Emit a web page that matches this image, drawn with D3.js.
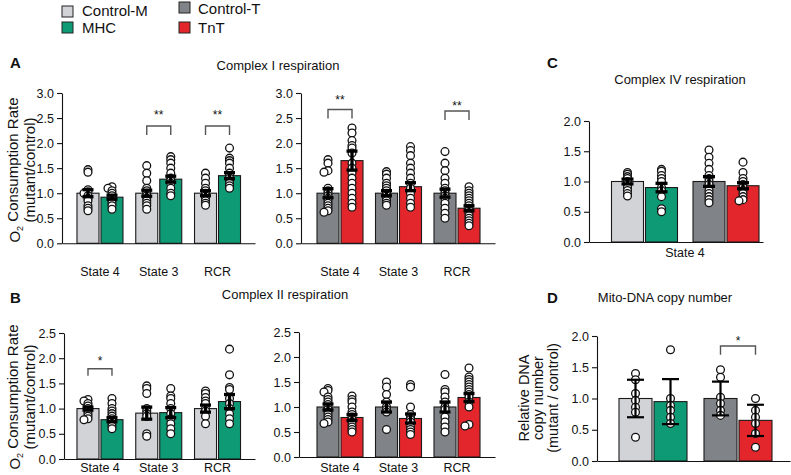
<!DOCTYPE html>
<html><head><meta charset="utf-8">
<script src="https://cdn.jsdelivr.net/npm/d3@7"></script>
<style>
body{margin:0;background:#fff}
svg{display:block}
text{font-family:"Liberation Sans",Arial,Helvetica,sans-serif;fill:#111}
</style>
</head><body>
<svg id="chart" width="791" height="475"></svg>
<script>
// ---------------- DATA ----------------
const seriesNames  = ["Control-M", "MHC", "Control-T", "TnT"];
const seriesColors = ["#d2d3d7", "#0f9a76", "#808387", "#e3262b"];
const stateLabels  = ["State 4", "State 3", "RCR"];
const ticksA = [0, 0.5, 1.0, 1.5, 2.0, 2.5, 3.0];
const ticksB = [0, 0.5, 1.0, 1.5, 2.0, 2.5];
const ticksCD = [0, 0.5, 1.0, 1.5, 2.0];

// Panel A left: Complex I, Control-M vs MHC
const aLeftMeans = [[1.00, 0.92], [1.00, 1.28], [1.00, 1.35]];
const aLeftSEM   = [[0.07, 0.04], [0.06, 0.06], [0.05, 0.06]];
const aLeftPoints = [
  [[1.47, 1.42, 1.07, 1.03, 1.0, 0.95, 0.9, 0.85, 0.75, 0.7, 0.65],
   [1.13, 1.1, 1.05, 1.0, 0.95, 0.9, 0.85, 0.8, 0.75, 0.68]],
  [[1.55, 1.4, 1.25, 1.1, 1.05, 1.0, 0.95, 0.9, 0.85, 0.8, 0.75, 0.68],
   [1.73, 1.67, 1.6, 1.5, 1.4, 1.3, 1.25, 1.2, 1.1, 1.0, 0.95]],
  [[1.4, 1.3, 1.2, 1.1, 1.05, 1.0, 0.95, 0.9, 0.85, 0.8, 0.76],
   [1.9, 1.7, 1.65, 1.6, 1.5, 1.4, 1.35, 1.3, 1.25, 1.2, 1.15, 1.1]]
];
const aLeftSig = [{group: 1, y: 2.34, leg: 2.16, ty: 2.62, label: "**"},
                  {group: 2, y: 2.34, leg: 2.16, ty: 2.62, label: "**"}];

// Panel A right: Complex I, Control-T vs TnT
const aRightMeans = [[1.00, 1.65], [1.00, 1.13], [1.00, 0.70]];
const aRightSEM   = [[0.09, 0.19], [0.05, 0.08], [0.08, 0.05]];
const aRightPoints = [
  [[1.67, 1.6, 1.45, 1.42, 1.1, 1.05, 1.0, 0.95, 0.9, 0.85, 0.8, 0.75, 0.7, 0.65, 0.62],
   [2.3, 2.2, 2.05, 1.95, 1.9, 1.8, 1.6, 1.5, 1.4, 1.3, 1.2, 1.1, 1.0, 0.9, 0.8, 0.72]],
  [[1.43, 1.38, 1.3, 1.2, 1.15, 1.1, 1.05, 1.0, 0.95, 0.9, 0.85, 0.8, 0.76],
   [1.93, 1.85, 1.75, 1.6, 1.5, 1.4, 1.3, 1.2, 1.1, 1.0, 0.9, 0.8, 0.72]],
  [[1.83, 1.6, 1.45, 1.3, 1.2, 1.1, 1.05, 1.0, 0.95, 0.9, 0.8, 0.7, 0.6, 0.5],
   [1.13, 1.05, 1.0, 0.95, 0.9, 0.85, 0.8, 0.75, 0.7, 0.65, 0.6, 0.55, 0.5, 0.45, 0.4, 0.35]]
];
const aRightSig = [{group: 0, y: 2.67, leg: 2.49, ty: 2.92, label: "**"},
                   {group: 2, y: 2.64, leg: 2.46, ty: 2.80, label: "**"}];

// Panel B left: Complex II, Control-M vs MHC
const bLeftMeans = [[1.00, 0.78], [0.91, 0.92], [1.00, 1.14]];
const bLeftSEM   = [[0.03, 0.04], [0.12, 0.10], [0.07, 0.14]];
const bLeftPoints = [
  [[1.18, 1.15, 1.1, 1.05, 1.0, 0.95, 0.9, 0.85, 0.8, 0.78],
   [1.2, 1.1, 1.0, 0.95, 0.9, 0.85, 0.8, 0.75, 0.7, 0.65, 0.6]],
  [[1.45, 1.4, 1.3, 1.0, 0.95, 0.9, 0.85, 0.5, 0.45],
   [1.4, 1.25, 1.2, 1.1, 1.0, 0.9, 0.8, 0.7, 0.6, 0.5]],
  [[1.35, 1.3, 1.22, 1.15, 1.1, 1.0, 0.95, 0.85, 0.7],
   [2.18, 1.67, 1.42, 1.38, 1.2, 1.1, 1.0, 0.9, 0.8, 0.7]]
];
const bLeftSig = [{group: 0, y: 1.79, leg: 1.65, ty: 2.0, label: "*"}];

// Panel B right: Complex II, Control-T vs TnT
const bRightMeans = [[1.00, 0.79], [1.00, 0.77], [1.00, 1.19]];
const bRightSEM   = [[0.06, 0.06], [0.10, 0.09], [0.10, 0.08]];
const bRightPoints = [
  [[1.37, 1.33, 1.3, 1.2, 1.15, 1.1, 1.05, 1.0, 0.95, 0.9, 0.85, 0.8, 0.75, 0.7, 0.67],
   [1.22, 1.15, 1.1, 1.0, 0.9, 0.85, 0.8, 0.75, 0.7, 0.65, 0.6, 0.55, 0.5]],
  [[1.5, 1.4, 1.25, 1.1, 1.0, 0.95, 0.9, 0.55],
   [1.45, 1.4, 1.0, 0.85, 0.8, 0.75, 0.7, 0.6, 0.55, 0.5, 0.45]],
  [[1.65, 1.35, 1.3, 1.2, 1.1, 1.0, 0.95, 0.8, 0.7, 0.6, 0.5],
   [1.78, 1.6, 1.55, 1.5, 1.45, 1.4, 1.35, 1.3, 1.25, 1.2, 1.1, 1.0, 0.65, 0.62]]
];
const bRightSig = [];

// Panel C: Complex IV, State 4 (pairs: Control-M/MHC, Control-T/TnT)
const cMeans = [[1.00, 0.90], [1.00, 0.93]];
const cSEM   = [[0.04, 0.07], [0.08, 0.05]];
const cPoints = [
  [[1.15, 1.12, 1.08, 1.05, 1.0, 0.95, 0.9, 0.85, 0.8, 0.76],
   [1.2, 1.17, 1.1, 1.05, 1.0, 0.9, 0.85, 0.75, 0.55, 0.5]],
  [[1.52, 1.4, 1.3, 1.2, 1.1, 1.05, 1.0, 0.95, 0.85, 0.8, 0.75, 0.7, 0.65],
   [1.32, 1.15, 1.05, 1.0, 0.95, 0.9, 0.85, 0.8, 0.75, 0.7, 0.68]]
];

// Panel D: Mito-DNA copy number (mean +/- SD)
const dMeans = [[1.00, 0.95], [1.00, 0.65]];
const dSD    = [[0.30, 0.36], [0.27, 0.25]];
const dPoints = [
  [[1.4, 1.3, 1.08, 0.97, 0.86, 0.78, 0.38],
   [1.78, 1.0, 0.89, 0.81, 0.7, 0.6]],
  [[1.46, 1.34, 1.02, 0.92, 0.81, 0.73],
   [1.0, 0.81, 0.7, 0.6, 0.44, 0.22]]
];
const dSig = [{group: 1, y: 1.84, leg: 1.70, ty: 1.97, label: "*"}];

// ---------------- DRAWING ----------------
const svg = d3.select("#chart");
const FONT = '"Liberation Sans", Arial, Helvetica, sans-serif';

function drawPanel(o) {
  const g = svg.append("g");
  const y = d3.scaleLinear().domain([0, o.yMax]).range([o.yBottom, o.yTop]);
  const xg = d3.scaleBand().domain(d3.range(o.means.length)).range(o.band);
  const xs = d3.scaleBand().domain([0, 1])
      .range([-o.barW - o.gap / 2, o.barW + o.gap / 2])
      .paddingInner(o.gap / (o.barW + o.gap)).paddingOuter(0);
  const cx = (gi, si) => xg(gi) + xg.bandwidth() / 2 + xs(si) + xs.bandwidth() / 2;

  // bars
  o.means.forEach((grp, gi) => grp.forEach((m, si) => {
    g.append("rect")
      .attr("x", xg(gi) + xg.bandwidth() / 2 + xs(si))
      .attr("y", y(m))
      .attr("width", xs.bandwidth())
      .attr("height", y(0) - y(m))
      .attr("fill", seriesColors[o.colorIdx[gi][si]])
      .attr("stroke", "#1a1a1a").attr("stroke-width", 1.1);
  }));

  // points (near-columnar swarm)
  const r = o.r || 3.9;
  o.points.forEach((grp, gi) => grp.forEach((pts, si) => {
    const placed = [];
    const c = cx(gi, si);
    pts.slice().sort((a, b) => b - a).forEach(v => {
      const py = y(v);
      const offs = [0, -4, 4, -8, 8];
      let px = c;
      for (const dx of offs) {
        const ok = placed.every(p => Math.hypot(p[0] - (c + dx), p[1] - py) >= 1.8);
        if (ok) { px = c + dx; break; }
      }
      placed.push([px, py]);
      g.append("circle").attr("cx", px).attr("cy", py).attr("r", r)
        .attr("fill", "#fff").attr("stroke", "#111").attr("stroke-width", 1.3);
    });
  }));

  // error bars
  o.means.forEach((grp, gi) => grp.forEach((m, si) => {
    const e = o.errs[gi][si];
    const c = cx(gi, si);
    const hw = o.capHalf;
    g.append("line").attr("x1", c).attr("x2", c).attr("y1", y(m - e)).attr("y2", y(m + e))
      .attr("stroke", "#000").attr("stroke-width", o.errW);
    [m - e, m + e].forEach(v => g.append("line")
      .attr("x1", c - hw).attr("x2", c + hw).attr("y1", y(v)).attr("y2", y(v))
      .attr("stroke", "#000").attr("stroke-width", o.errW));
  }));

  // y axis
  const ax = g.append("g").attr("transform", `translate(${o.axisX},0)`)
    .call(d3.axisLeft(y).tickValues(o.ticks).tickSize(5).tickSizeOuter(0)
      .tickPadding(3).tickFormat(d3.format(".1f")));
  ax.selectAll("path,line").attr("stroke", "#111").attr("stroke-width", 1.1);
  ax.selectAll("text").attr("font-size", 12.5).attr("font-family", FONT).attr("fill", "#222");

  // x axis line
  const xa = d3.scaleLinear().domain([0, 1]).range([o.axisX, o.axisEnd]);
  const xAx = g.append("g").attr("transform", `translate(0,${y(0)})`)
    .call(d3.axisBottom(xa).tickValues([]).tickSizeOuter(0));
  xAx.select("path").attr("stroke", "#111").attr("stroke-width", 1.1);

  // x labels
  if (o.xlabels) {
    o.xlabels.forEach((lab, i) => {
      const xc = o.xlabelPos ? o.xlabelPos[i] : xg(i) + xg.bandwidth() / 2;
      g.append("text").attr("x", xc).attr("y", o.xlabelY).attr("text-anchor", "middle")
        .attr("font-size", 12.5).text(lab);
    });
  }

  // significance
  (o.sig || []).forEach(s => {
    const x1 = cx(s.group, 0), x2 = cx(s.group, 1);
    g.append("path")
      .attr("d", `M${x1},${y(s.leg)}V${y(s.y)}H${x2}V${y(s.leg)}`)
      .attr("fill", "none").attr("stroke", "#555").attr("stroke-width", 1.4);
    g.append("text").attr("x", (x1 + x2) / 2).attr("y", y(s.ty) + 7)
      .attr("text-anchor", "middle").attr("font-size", 12).attr("fill", "#444").text(s.label);
  });
  return g;
}

const pairM = [[0, 1], [0, 1], [0, 1]];
const pairT = [[2, 3], [2, 3], [2, 3]];

drawPanel({means: aLeftMeans, errs: aLeftSEM, points: aLeftPoints, colorIdx: pairM,
  yMax: 3, yTop: 93, yBottom: 243.3, ticks: ticksA, axisX: 62, axisEnd: 255,
  band: [70.6, 246.9], barW: 22, gap: 2, errW: 3.3, capHalf: 5.5, sig: aLeftSig,
  xlabels: stateLabels, xlabelY: 276});
drawPanel({means: aRightMeans, errs: aRightSEM, points: aRightPoints, colorIdx: pairT,
  yMax: 3, yTop: 93, yBottom: 243.3, ticks: ticksA, axisX: 301, axisEnd: 495,
  band: [310.75, 486.25], barW: 22, gap: 2, errW: 3.3, capHalf: 5.5, sig: aRightSig,
  xlabels: stateLabels, xlabelY: 276});
drawPanel({means: cMeans, errs: cSEM, points: cPoints, colorIdx: [[0, 1], [2, 3]],
  yMax: 2, yTop: 121, yBottom: 242, ticks: ticksCD, axisX: 589, axisEnd: 763,
  band: [603.75, 766.75], barW: 32, gap: 2, errW: 3.3, capHalf: 6, sig: [],
  xlabels: ["State 4"], xlabelPos: [685], xlabelY: 257});
drawPanel({means: bLeftMeans, errs: bLeftSEM, points: bLeftPoints, colorIdx: pairM,
  yMax: 2.5, yTop: 333, yBottom: 459, ticks: ticksB, axisX: 64, axisEnd: 255,
  band: [70.6, 246.9], barW: 22, gap: 2, errW: 3.3, capHalf: 5.5, sig: bLeftSig,
  xlabels: stateLabels, xlabelY: 472});
drawPanel({means: bRightMeans, errs: bRightSEM, points: bRightPoints, colorIdx: pairT,
  yMax: 2.5, yTop: 332, yBottom: 457, ticks: ticksB, axisX: 299, axisEnd: 495,
  band: [310.75, 486.25], barW: 22, gap: 2, errW: 3.3, capHalf: 5.5, sig: bRightSig,
  xlabels: stateLabels, xlabelY: 471.5});
drawPanel({means: dMeans, errs: dSD, points: dPoints, colorIdx: [[0, 1], [2, 3]],
  yMax: 2, yTop: 336, yBottom: 461, ticks: ticksCD, axisX: 597, axisEnd: 790,
  band: [610.5, 780.5], barW: 33, gap: 2, errW: 2.2, capHalf: 8.5, r: 3.9, sig: dSig});

// legend
const legendPos = [[62, 6, 82, 16], [62, 22, 82, 33], [179, 2, 198, 13.5], [179, 22, 198, 33]];
seriesNames.forEach((n, i) => {
  const p = legendPos[i];
  svg.append("rect").attr("x", p[0]).attr("y", p[1]).attr("width", 11).attr("height", 11)
    .attr("fill", seriesColors[i]).attr("stroke", "#222").attr("stroke-width", 1);
  svg.append("text").attr("x", p[2]).attr("y", p[3]).attr("font-size", 15).text(n);
});

// panel letters
[["A", 10, 68], ["B", 10, 303], ["C", 547, 68], ["D", 547, 303]].forEach(d =>
  svg.append("text").attr("x", d[1]).attr("y", d[2]).attr("font-size", 15)
    .attr("font-weight", "bold").attr("fill", "#000").text(d[0]));

// titles
[["Complex I respiration", 278, 70], ["Complex II respiration", 285, 299],
 ["Complex IV respiration", 680, 84], ["Mito-DNA copy number", 665, 302]].forEach(d =>
  svg.append("text").attr("x", d[1]).attr("y", d[2]).attr("text-anchor", "middle")
    .attr("font-size", 13).text(d[0]));

// y labels
function ylab(lines, xs, yc, fs) {
  lines.forEach((ln, i) => {
    const t = svg.append("text").attr("transform", `translate(${xs[i]},${yc}) rotate(-90)`)
      .attr("text-anchor", "middle").attr("dy", "0.35em").attr("font-size", fs);
    if (ln === "O2") {
      t.append("tspan").text("O");
      t.append("tspan").attr("font-size", fs * 0.6).attr("dy", "0.3em").text("2");
      t.append("tspan").attr("dy", "-0.3em").text(" Consumption Rate");
    } else t.text(ln);
  });
}
ylab(["O2", "(mutant/control)"], [15, 30], 170, 15);
ylab(["O2", "(mutant/control)"], [15, 30], 397, 15);
ylab(["Relative DNA", "copy number", "(mutant / control)"], [524, 538, 553], 398, 14.5);
</script>
</body></html>
